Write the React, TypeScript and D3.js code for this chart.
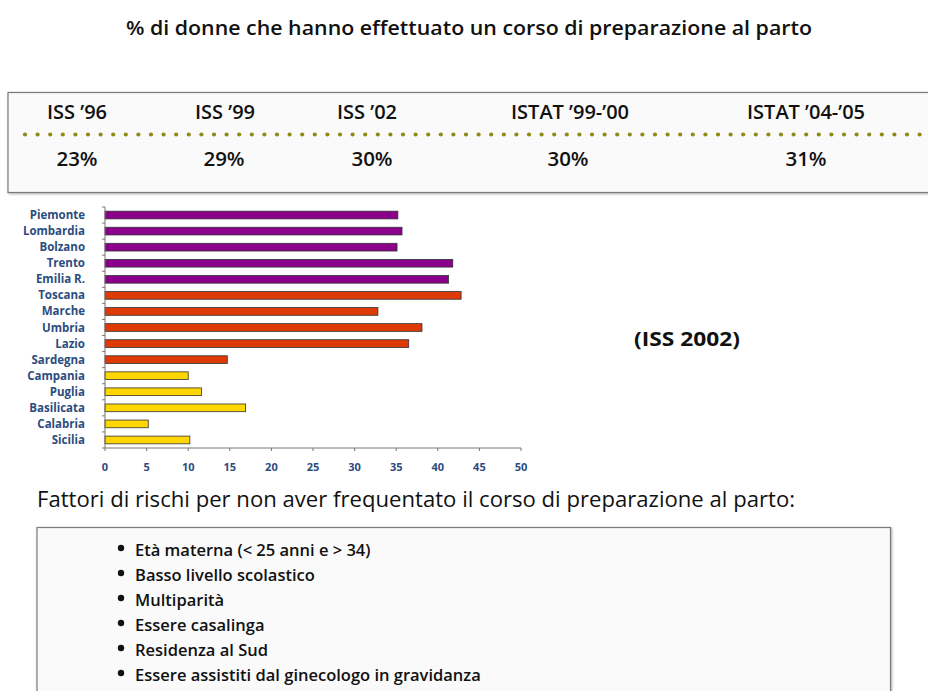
import React from "react";
import * as d3 from "d3";

const title = "% di donne che hanno effettuato un corso di preparazione al parto";
const surveys = ["ISS \u201996", "ISS \u201999", "ISS \u201902", "ISTAT \u201999-\u201900", "ISTAT \u201904-\u201905"];
const surveyValues = [23, 29, 30, 30, 31];
const surveyCenters = [77, 225, 367, 570, 806];
const valueCenters = [77, 224, 372, 568, 806];

const regions = ["Piemonte", "Lombardia", "Bolzano", "Trento", "Emilia R.", "Toscana", "Marche", "Umbria", "Lazio", "Sardegna", "Campania", "Puglia", "Basilicata", "Calabria", "Sicilia"];
const values = [35.2, 35.7, 35.1, 41.8, 41.3, 42.8, 32.8, 38.1, 36.5, 14.7, 10.0, 11.6, 16.9, 5.2, 10.2];
const groups = ["N", "N", "N", "N", "N", "C", "C", "C", "C", "C", "S", "S", "S", "S", "S"];
const xTicks = [0, 5, 10, 15, 20, 25, 30, 35, 40, 45, 50];
const source = "(ISS 2002)";

const factorsTitle = "Fattori di rischi per non aver frequentato il corso di preparazione al parto:";
const factors = [
  "Età materna (< 25 anni e > 34)",
  "Basso livello scolastico",
  "Multiparità",
  "Essere casalinga",
  "Residenza al Sud",
  "Essere assistiti dal ginecologo in gravidanza",
];

const groupColor: Record<string, string> = { N: "#8B008B", C: "#DD3A06", S: "#FFD700" };
const FONT = "'Open Sans', 'DejaVu Sans', sans-serif";
const LBL = "#2B4C7E";

export default function App() {
  const W = 928, H = 691;
  const x = d3.scaleLinear().domain([0, 50]).range([105, 521]);
  const y = d3.scaleBand<string>().domain(regions).range([207, 448]).paddingInner(0.52).paddingOuter(0.26);
  const step = y.step();
  const dots = d3.range(25, W, 12.6);

  return (
    <svg width={W} height={H} style={{ position: "absolute", left: 0, top: 0, background: "#fff" }} fontFamily={FONT}>
      <defs>
        <filter id="sh" x="-5%" y="-5%" width="110%" height="120%">
          <feDropShadow dx="1" dy="1" stdDeviation="1" floodColor="#000" floodOpacity="0.35" />
        </filter>
      </defs>
      <text x={469} y={35} textAnchor="middle" fontSize={20} fontWeight={600} fill="#111" textLength={686} lengthAdjust="spacingAndGlyphs">{title}</text>

      {/* top box */}
      <rect x={8} y={92.5} width={930} height={100} fill="#fafafa" stroke="#7a7a7a" strokeWidth={1.2} filter="url(#sh)" />
      {dots.map((d, i) => (
        <circle key={i} cx={d} cy={134.5} r={2.1} fill="#8C8C14" />
      ))}
      {surveys.map((s, i) => (
        <text key={s} x={surveyCenters[i]} y={119} textAnchor="middle" fontSize={20} fontWeight={600} fill="#111">{s}</text>
      ))}
      {surveyValues.map((v, i) => (
        <text key={i} x={valueCenters[i]} y={166} textAnchor="middle" fontSize={20.5} fontWeight={600} fill="#111">{v}%</text>
      ))}

      {/* bar chart */}
      {regions.map((r, i) => (
        <rect key={r} x={x(0)} y={y(r)!} width={x(values[i]) - x(0)} height={y.bandwidth()} fill={groupColor[groups[i]]} stroke="#333" strokeWidth={0.8} />
      ))}
      {regions.map((r) => (
        <text key={r} x={85} y={y(r)! + y.bandwidth() / 2 + 4} textAnchor="end" fontSize={11.5} fontWeight="bold" fill={LBL}>{r}</text>
      ))}
      <line x1={105} x2={105} y1={207} y2={448} stroke="#777" strokeWidth={1} />
      {d3.range(regions.length + 1).map((i) => (
        <line key={i} x1={102} x2={105} y1={207 + i * step} y2={207 + i * step} stroke="#777" />
      ))}
      <line x1={105} x2={521} y1={448} y2={448} stroke="#777" strokeWidth={1} />
      {xTicks.map((t) => (
        <g key={t}>
          <line x1={x(t)} x2={x(t)} y1={448} y2={451} stroke="#777" />
          <text x={x(t)} y={471} textAnchor="middle" fontSize={11} fontWeight="bold" fill={LBL}>{t}</text>
        </g>
      ))}
      <text x={687} y={346} textAnchor="middle" fontSize={19} fontWeight="bold" fill="#111" textLength={106} lengthAdjust="spacingAndGlyphs">{source}</text>

      {/* factors */}
      <text x={37} y={507} fontSize={21} fill="#111" textLength={758} lengthAdjust="spacingAndGlyphs">{factorsTitle}</text>
      <rect x={37} y={527.5} width={853.5} height={180} fill="#fafafa" stroke="#7a7a7a" strokeWidth={1.2} filter="url(#sh)" />
      {factors.map((f, i) => (
        <g key={f}>
          <circle cx={121} cy={548 + i * 25} r={3.2} fill="#111" />
          <text x={135} y={556 + i * 25} fontSize={16.5} fontWeight={600} fill="#111">{f}</text>
        </g>
      ))}
    </svg>
  );
}
